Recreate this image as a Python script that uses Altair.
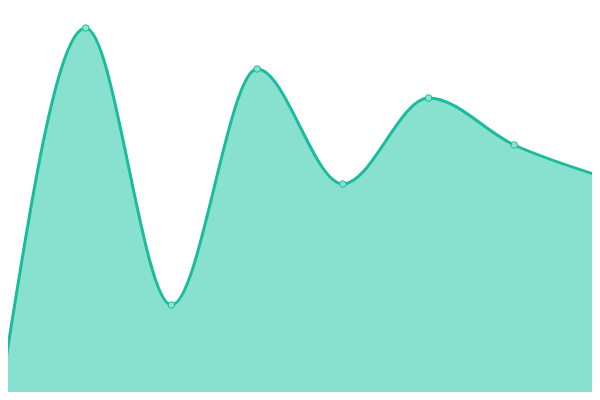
import altair as alt
import pandas as pd

idx = [0, 1, 2, 3, 4, 5, 6, 7]
values = [2, 372, 95, 331, 216, 302, 255, 224]

df = pd.DataFrame({"i": idx, "v": values})

step = 600 / 7
x = alt.X("i:Q", scale=alt.Scale(domain=[8 / step, 592 / step], nice=False, zero=False), axis=None)
y = alt.Y("v:Q", scale=alt.Scale(domain=[8, 392], nice=False, zero=False), axis=None)

area = alt.Chart(df).mark_area(
    interpolate="monotone", fill="#88e0cf", fillOpacity=1,
    line={"color": "#1abc9c", "strokeWidth": 3}
).encode(x=x, y=y, y2=alt.datum(0))

pts = alt.Chart(df).mark_point(
    filled=True, size=42, fill="#8fe2d2", stroke="#1abc9c", strokeWidth=1, opacity=1
).encode(x=x, y=y)

chart = (area + pts).properties(
    width=584, height=384, padding=0, autosize=alt.AutoSizeParams(type="none")
).configure_view(stroke=None)

chart.save("out.html", embed_options={"renderer": "svg", "actions": False})
